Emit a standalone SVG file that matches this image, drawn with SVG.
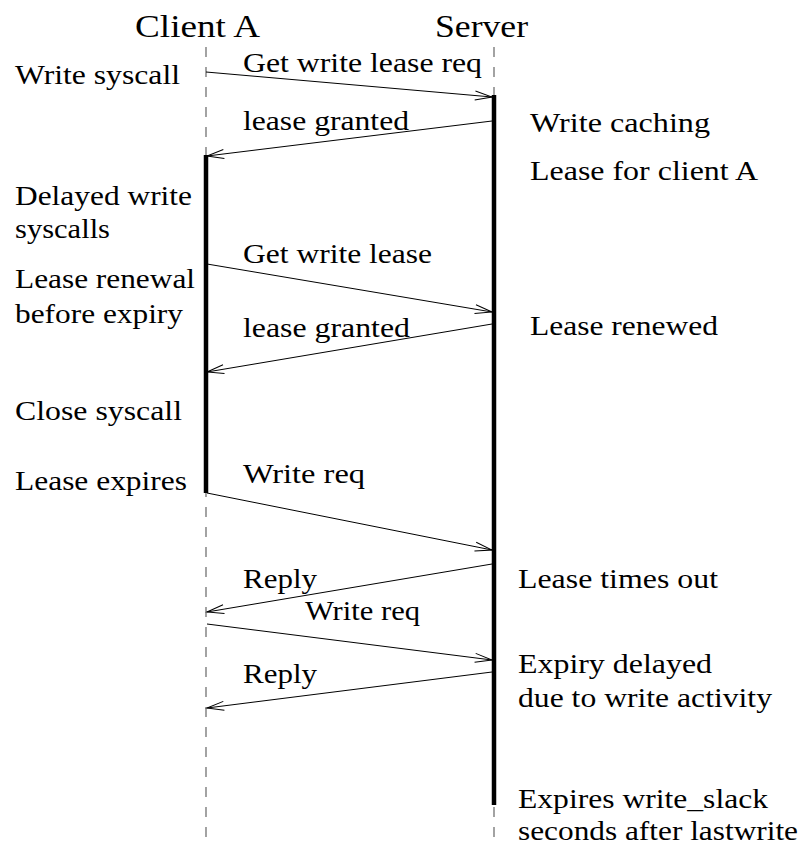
<svg xmlns="http://www.w3.org/2000/svg" width="804" height="846" viewBox="0 0 804 846">
  <style>
    text { font-family: "Liberation Serif", "Times New Roman", serif; fill: #000; }
    .title { font-size: 32px; }
    .lbl { font-size: 28px; }
    .life { stroke: #666; stroke-width: 1.2; stroke-dasharray: 10 10; fill: none; }
    .act { stroke: #000; stroke-width: 4.5; fill: none; }
    .msg { stroke: #000; stroke-width: 1; fill: none; marker-end: url(#head); }
  </style>
  <defs>
    <marker id="head" markerUnits="userSpaceOnUse" markerWidth="20" markerHeight="12" viewBox="-18 -6 20 12" refX="0" refY="0" orient="auto">
      <path d="M-17,-4.5 L0,0 L-17,4.5" fill="none" stroke="#000" stroke-width="1"/>
    </marker>
  </defs>
  <rect width="804" height="846" fill="#fff"/>

  <!-- Client A lifeline -->
  <g id="client-a">
    <text class="title" x="135" y="37" textLength="125" lengthAdjust="spacingAndGlyphs">Client A</text>
    <line class="life" x1="206" y1="47" x2="206" y2="846"/>
    <line class="act" x1="206" y1="155" x2="206" y2="493"/>
  </g>

  <!-- Server lifeline -->
  <g id="server">
    <text class="title" x="435" y="37" textLength="93" lengthAdjust="spacingAndGlyphs">Server</text>
    <line class="life" x1="494" y1="47" x2="494" y2="846"/>
    <line class="act" x1="494" y1="95" x2="494" y2="805"/>
  </g>

  <!-- client-side notes -->
  <g id="client-notes">
    <text class="lbl" x="15" y="84" textLength="165" lengthAdjust="spacingAndGlyphs">Write syscall</text>
    <text class="lbl" x="15" y="205" textLength="177" lengthAdjust="spacingAndGlyphs">Delayed write</text>
    <text class="lbl" x="15" y="238" textLength="95" lengthAdjust="spacingAndGlyphs">syscalls</text>
    <text class="lbl" x="15" y="288" textLength="180" lengthAdjust="spacingAndGlyphs">Lease renewal</text>
    <text class="lbl" x="15" y="323" textLength="168" lengthAdjust="spacingAndGlyphs">before expiry</text>
    <text class="lbl" x="15" y="420" textLength="167" lengthAdjust="spacingAndGlyphs">Close syscall</text>
    <text class="lbl" x="15" y="490" textLength="172" lengthAdjust="spacingAndGlyphs">Lease expires</text>
  </g>

  <!-- server-side notes -->
  <g id="server-notes">
    <text class="lbl" x="530" y="132" textLength="180" lengthAdjust="spacingAndGlyphs">Write caching</text>
    <text class="lbl" x="530" y="180" textLength="228" lengthAdjust="spacingAndGlyphs">Lease for client A</text>
    <text class="lbl" x="530" y="335" textLength="188" lengthAdjust="spacingAndGlyphs">Lease renewed</text>
    <text class="lbl" x="518" y="588" textLength="200" lengthAdjust="spacingAndGlyphs">Lease times out</text>
    <text class="lbl" x="518" y="673" textLength="194" lengthAdjust="spacingAndGlyphs">Expiry delayed</text>
    <text class="lbl" x="518" y="707" textLength="254" lengthAdjust="spacingAndGlyphs">due to write activity</text>
    <text class="lbl" x="518" y="808" textLength="250" lengthAdjust="spacingAndGlyphs">Expires write_slack</text>
    <text class="lbl" x="518" y="840" textLength="280" lengthAdjust="spacingAndGlyphs">seconds after lastwrite</text>
  </g>

  <!-- messages -->
  <g id="connectors">
    <line class="msg" x1="206" y1="72" x2="492" y2="97"/>
    <line class="msg" x1="492" y1="121" x2="207" y2="156"/>
    <line class="msg" x1="207" y1="264" x2="492" y2="312"/>
    <line class="msg" x1="492" y1="324" x2="207" y2="372"/>
    <line class="msg" x1="207" y1="493" x2="492" y2="550"/>
    <line class="msg" x1="492" y1="564" x2="207" y2="612"/>
    <line class="msg" x1="207" y1="624" x2="492" y2="660"/>
    <line class="msg" x1="492" y1="672" x2="207" y2="708"/>
  </g>

  <!-- message labels -->
  <g id="message-labels">
    <text class="lbl" x="243" y="72" textLength="239" lengthAdjust="spacingAndGlyphs">Get write lease req</text>
    <text class="lbl" x="243" y="130" textLength="166" lengthAdjust="spacingAndGlyphs">lease granted</text>
    <text class="lbl" x="243" y="263" textLength="189" lengthAdjust="spacingAndGlyphs">Get write lease</text>
    <text class="lbl" x="243" y="337" textLength="167" lengthAdjust="spacingAndGlyphs">lease granted</text>
    <text class="lbl" x="243" y="483" textLength="122" lengthAdjust="spacingAndGlyphs">Write req</text>
    <text class="lbl" x="243" y="588" textLength="74" lengthAdjust="spacingAndGlyphs">Reply</text>
    <text class="lbl" x="305" y="620" textLength="115" lengthAdjust="spacingAndGlyphs">Write req</text>
    <text class="lbl" x="243" y="683" textLength="74" lengthAdjust="spacingAndGlyphs">Reply</text>
  </g>
</svg>
